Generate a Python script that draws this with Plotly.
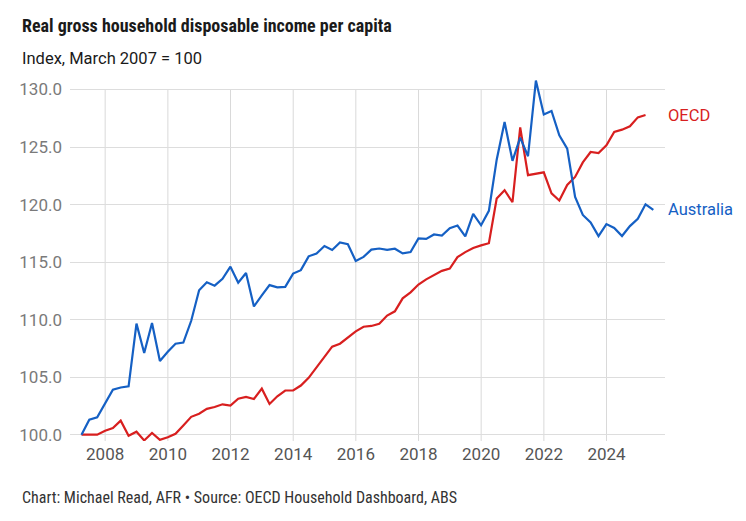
import pandas as pd
import plotly.graph_objects as go

# Quarterly data, March quarter 2007 = 100
australia = [
    100.0, 101.3, 101.5, 102.7,
    103.9, 104.1, 104.2, 109.65,
    107.1, 109.7, 106.4, 107.2,
    107.9, 108.0, 109.9, 112.55,
    113.25, 112.95, 113.55, 114.6,
    113.2, 114.05, 111.15, 112.1,
    113.0, 112.8, 112.85, 114.0,
    114.3, 115.5, 115.75, 116.4,
    116.05, 116.7, 116.55, 115.1,
    115.45, 116.08, 116.18, 116.07,
    116.16, 115.76, 115.87, 117.06,
    117.02, 117.4, 117.31, 117.95,
    118.18, 117.23, 119.2, 118.2,
    119.45, 123.9, 127.18, 123.8,
    125.82, 124.2, 130.78, 127.83,
    128.13, 126.02, 124.86, 120.66,
    119.1, 118.45, 117.26, 118.3,
    117.97, 117.27, 118.13, 118.76,
    120.02, 119.53,
]
oecd = [
    100.0, 100.0, 100.0, 100.35,
    100.58, 101.22, 99.9, 100.26,
    99.5, 100.15, 99.55, 99.78,
    100.08, 100.8, 101.55, 101.82,
    102.24, 102.4, 102.64, 102.52,
    103.12, 103.28, 103.1, 104.0,
    102.67, 103.34, 103.84, 103.84,
    104.27, 104.94, 105.87, 106.72,
    107.65, 107.91, 108.46, 108.98,
    109.38, 109.45, 109.63, 110.35,
    110.72, 111.85, 112.37, 113.05,
    113.5, 113.86, 114.24, 114.43,
    115.43, 115.87, 116.23, 116.45,
    116.64, 120.52, 121.25, 120.2,
    126.7, 122.56, 122.69, 122.8,
    120.97, 120.35, 121.7, 122.4,
    123.66, 124.57, 124.48, 125.15,
    126.32, 126.51, 126.8, 127.58,
    127.78,
]
dates_au = pd.date_range("2007-03-31", periods=len(australia), freq="QE")
dates_oecd = dates_au[: len(oecd)]

x_tick_years = [2008, 2010, 2012, 2014, 2016, 2018, 2020, 2022, 2024]
y_ticks = [100, 105, 110, 115, 120, 125, 130]

BLUE = "#1560c4"
RED = "#d81f1f"
COND = "Roboto Condensed, Liberation Sans Narrow, Roboto, sans-serif"
REG = "Roboto, Open Sans, sans-serif"

fig = go.Figure()
fig.add_trace(go.Scatter(x=dates_oecd, y=oecd, mode="lines", name="OECD",
                         line=dict(color=RED, width=2.2)))
fig.add_trace(go.Scatter(x=dates_au, y=australia, mode="lines", name="Australia",
                         line=dict(color=BLUE, width=2.2)))

y_min, y_max = 99.45, 131.0
# vertical gridlines only up to the top tick
for yr in x_tick_years:
    fig.add_shape(type="line", xref="x", yref="y",
                  x0=f"{yr}-01-01", x1=f"{yr}-01-01", y0=y_min, y1=y_ticks[-1],
                  line=dict(color="#d9d9d9", width=1), layer="below")

fig.update_layout(
    width=746, height=521,
    margin=dict(l=70, r=81, t=78, b=80),
    paper_bgcolor="white", plot_bgcolor="white",
    showlegend=False,
    font=dict(family=REG),
    xaxis=dict(
        type="date",
        range=["2006-11-17", "2025-11-13"],
        tickvals=[f"{y}-01-01" for y in x_tick_years],
        ticktext=[str(y) for y in x_tick_years],
        showgrid=False, zeroline=False, showline=False,
        tickfont=dict(size=17, color="#555555", family=REG),
        ticks="", ticklabelstandoff=1,
    ),
    yaxis=dict(
        range=[y_min, y_max],
        tickvals=y_ticks,
        tickformat=".1f",
        showgrid=True, gridcolor="#dddddd", gridwidth=1,
        zeroline=False, showline=False,
        tickfont=dict(size=17, color="#7a7a7a", family=REG),
        ticks="", ticklabelstandoff=7,
    ),
)

fig.add_annotation(text="<b>Real gross household disposable income per capita</b>",
                   xref="paper", yref="paper", x=-50 / 595, y=(440.6 - 25) / 362.8,
                   xanchor="left", yanchor="middle", showarrow=False,
                   font=dict(size=18, color="#1a1a1a", family=COND))
fig.add_annotation(text="Index, March 2007 = 100",
                   xref="paper", yref="paper", x=-50 / 595, y=(440.6 - 58) / 362.8,
                   xanchor="left", yanchor="middle", showarrow=False,
                   font=dict(size=16.5, color="#1a1a1a", family=REG))
fig.add_annotation(text="Chart: Michael Read, AFR • Source: OECD Household Dashboard, ABS",
                   xref="paper", yref="paper", x=-50 / 595, y=(440.6 - 497) / 362.8,
                   xanchor="left", yanchor="middle", showarrow=False,
                   font=dict(size=16, color="#333333", family=COND))

fig.add_annotation(text="OECD", xref="paper", yref="y", x=1, y=oecd[-1],
                   xanchor="left", yanchor="middle", xshift=1, showarrow=False,
                   font=dict(size=16.5, color=RED, family=REG))
fig.add_annotation(text="Australia", xref="paper", yref="y", x=1, y=australia[-1],
                   xanchor="left", yanchor="middle", xshift=1, showarrow=False,
                   font=dict(size=16.5, color=BLUE, family=REG))

fig.write_html("out.html")
